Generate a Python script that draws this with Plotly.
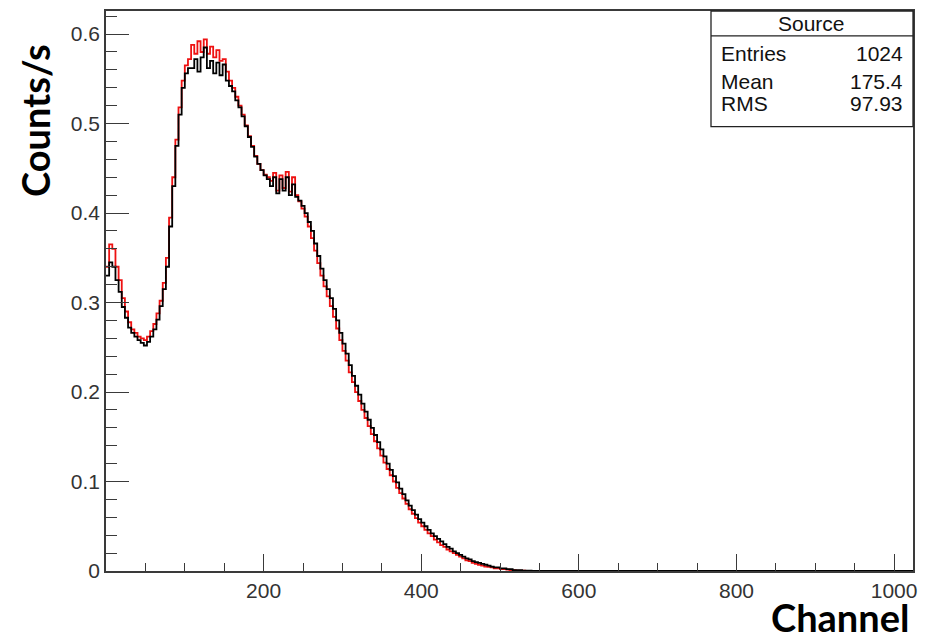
import plotly.graph_objects as go

# ---- data ----
bin_width = 4  # channels per plotted bin
black_vals = [0.33, 0.345, 0.34, 0.325, 0.312, 0.295, 0.283, 0.272, 0.266, 0.262,
              0.258, 0.255, 0.252, 0.256, 0.262, 0.27, 0.281, 0.296, 0.315, 0.34,
              0.385, 0.43, 0.475, 0.51, 0.54, 0.556, 0.562, 0.562, 0.572, 0.558,
              0.574, 0.585, 0.562, 0.57, 0.556, 0.568, 0.554, 0.566, 0.548, 0.542,
              0.536, 0.526, 0.518, 0.508, 0.497, 0.485, 0.474, 0.463, 0.455, 0.448,
              0.442, 0.438, 0.43, 0.44, 0.422, 0.438, 0.425, 0.44, 0.42, 0.432,
              0.418, 0.414, 0.408, 0.4, 0.39, 0.38, 0.366, 0.352, 0.338, 0.325,
              0.315, 0.305, 0.293, 0.28, 0.266, 0.254, 0.243, 0.23, 0.218, 0.207,
              0.197, 0.187, 0.178, 0.169, 0.16, 0.152, 0.144, 0.136, 0.128, 0.12,
              0.113, 0.106, 0.099, 0.092, 0.086, 0.079, 0.073, 0.068, 0.063, 0.058,
              0.054, 0.05, 0.046, 0.042, 0.039, 0.036, 0.033, 0.03, 0.027, 0.025,
              0.022, 0.02, 0.018, 0.016, 0.014, 0.013, 0.011, 0.01, 0.009, 0.008,
              0.007, 0.006, 0.005, 0.004, 0.004, 0.003, 0.003, 0.002, 0.002, 0.001,
              0.001, 0.001, 0.0005, 0.0005, 0.0003, 0.0002]
red_vals = [0.34, 0.365, 0.36, 0.34, 0.325, 0.305, 0.29, 0.278, 0.27, 0.266,
            0.262, 0.26, 0.258, 0.262, 0.268, 0.276, 0.288, 0.302, 0.322, 0.35,
            0.395, 0.44, 0.482, 0.518, 0.548, 0.565, 0.572, 0.588, 0.578, 0.592,
            0.58, 0.594, 0.578, 0.586, 0.574, 0.582, 0.57, 0.572, 0.558, 0.548,
            0.54, 0.53, 0.52, 0.51, 0.498, 0.486, 0.475, 0.464, 0.455, 0.448,
            0.443, 0.44, 0.436, 0.445, 0.425, 0.442, 0.428, 0.446, 0.424, 0.44,
            0.42, 0.413, 0.405, 0.396, 0.385, 0.372, 0.358, 0.344, 0.33, 0.318,
            0.307, 0.296, 0.284, 0.271, 0.258, 0.246, 0.235, 0.222, 0.211, 0.2,
            0.19, 0.18, 0.171, 0.162, 0.153, 0.145, 0.137, 0.129, 0.121, 0.114,
            0.107, 0.1, 0.093, 0.087, 0.081, 0.075, 0.069, 0.064, 0.059, 0.054,
            0.05, 0.046, 0.042, 0.039, 0.035, 0.032, 0.029, 0.027, 0.024, 0.022,
            0.02, 0.018, 0.016, 0.014, 0.012, 0.011, 0.009, 0.008, 0.007, 0.006,
            0.005, 0.0045, 0.004, 0.003, 0.003, 0.002, 0.002, 0.0015, 0.001, 0.001,
            0.0005, 0.0005, 0.0003, 0.0002, 0.0]
n_channels = 1024
x_tick_vals = [200, 400, 600, 800, 1000]
y_tick_vals = [0, 0.1, 0.2, 0.3, 0.4, 0.5, 0.6]
y_tick_text = ["0", "0.1", "0.2", "0.3", "0.4", "0.5", "0.6"]
stats_title = "Source"
stats_names = ["Entries", "Mean", "RMS"]
stats_values = ["1024", "175.4", "97.93"]

n_bins = n_channels // bin_width
edges = [i * bin_width for i in range(n_bins + 1)]


def steps(vals):
    full = list(vals) + [0.0] * (n_bins - len(vals))
    return edges, full + [full[-1]]


fig = go.Figure()
for vals, col in [(red_vals, "#ee1111"), (black_vals, "#000000")]:
    xs, ys = steps(vals)
    fig.add_trace(go.Scatter(x=xs, y=ys, mode="lines", line_shape="hv",
                             line=dict(color=col, width=1.8), showlegend=False,
                             hoverinfo="skip"))

tick_font = dict(family="Liberation Sans, Arial, sans-serif", size=21, color="#333333")
axis_col = "#3a3a3a"
fig.update_xaxes(range=[0, n_channels], showgrid=False, zeroline=False,
                 showline=True, mirror=True, linecolor=axis_col, linewidth=1.5,
                 ticks="inside", ticklen=17, tickwidth=1.3, tickcolor=axis_col,
                 tickvals=x_tick_vals, tickfont=tick_font,
                 minor=dict(ticks="inside", ticklen=8, tickwidth=1.3,
                            tickcolor=axis_col, dtick=50, tick0=0, showgrid=False))
fig.update_yaxes(range=[0, 0.6258], showgrid=False, zeroline=False,
                 showline=True, mirror=True, linecolor=axis_col, linewidth=1.5,
                 ticks="inside", ticklen=23, tickwidth=1.3, tickcolor=axis_col,
                 tickvals=y_tick_vals, ticktext=y_tick_text, tickfont=tick_font,
                 minor=dict(ticks="inside", ticklen=11, tickwidth=1.3,
                            tickcolor=axis_col, dtick=0.02, tick0=0, showgrid=False))

# page shows the figure offset by 8 px (body margin); plot area on screen: x 106..913, y 9..571
title_font = dict(family="Lato, Open Sans, sans-serif", size=38, color="#000000")
annotations = [
    dict(text="<b>Counts/s</b>", xref="paper", yref="paper", x=-0.088, y=0.665,
         xanchor="center", yanchor="bottom", textangle=-90, showarrow=False,
         font=title_font),
    dict(text="<b>Channel</b>", xref="paper", yref="paper", x=0.998, y=-0.037,
         xanchor="right", yanchor="top", showarrow=False, font=title_font),
]


def px_x(p):
    return (p - 106) / 807.0


def px_y(p):
    return (571 - p) / 562.0


box_font = dict(family="Liberation Sans, Arial, sans-serif", size=21, color="#111111")
shapes = [
    dict(type="rect", xref="paper", yref="paper", x0=px_x(711), x1=px_x(913),
         y0=px_y(125), y1=px_y(9), line=dict(color="#222222", width=1.3),
         fillcolor="white", layer="above"),
    dict(type="line", xref="paper", yref="paper", x0=px_x(711), x1=px_x(913),
         y0=px_y(34), y1=px_y(34), line=dict(color="#222222", width=1.3)),
]
annotations.append(dict(text=stats_title, xref="paper", yref="paper",
                        x=px_x(811), y=px_y(21.5), xanchor="center", yanchor="middle",
                        showarrow=False, font=box_font))
row_y = [52, 80, 102]
for name, val, yy in zip(stats_names, stats_values, row_y):
    annotations.append(dict(text=name, xref="paper", yref="paper", x=px_x(719),
                            y=px_y(yy), xanchor="left", yanchor="middle",
                            showarrow=False, font=box_font))
    annotations.append(dict(text=val, xref="paper", yref="paper", x=px_x(905),
                            y=px_y(yy), xanchor="right", yanchor="middle",
                            showarrow=False, font=box_font))

fig.update_layout(width=924, height=627, paper_bgcolor="white", plot_bgcolor="white",
                  margin=dict(l=98, r=19, t=1, b=64), annotations=annotations,
                  shapes=shapes)

fig.write_html("out.html")
